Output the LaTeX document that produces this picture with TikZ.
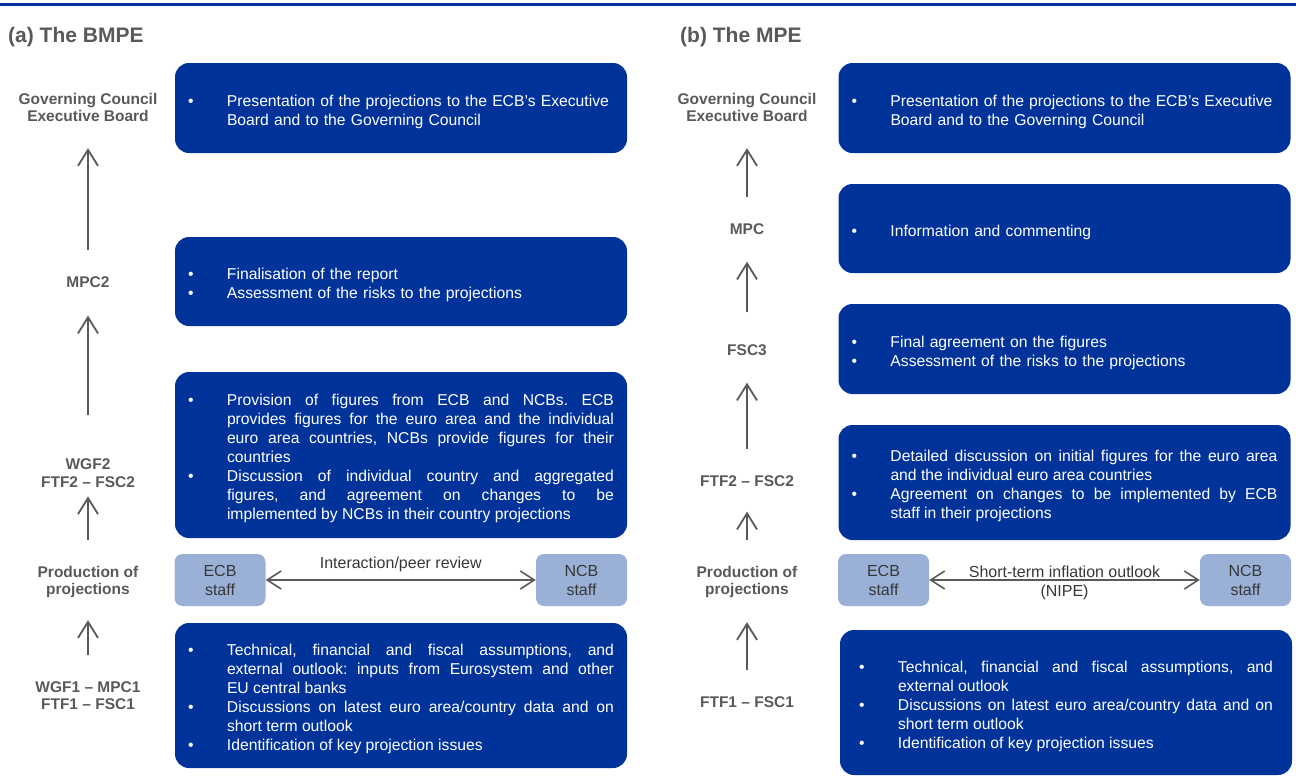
\documentclass[tikz,border=0pt]{standalone}
\usepackage{fontspec}
\setmainfont{Liberation Sans}
\usepackage{xcolor}
\usetikzlibrary{arrows.meta}
\definecolor{ecbblue}{RGB}{0,51,153}
\definecolor{staffblue}{RGB}{155,176,215}
\definecolor{labelgray}{RGB}{89,89,89}
\definecolor{staffgray}{RGB}{55,55,55}
\frenchspacing
\hyphenpenalty=10000
\newcommand{\bul}{\par\noindent\hangindent=39pt\hangafter=1\makebox[39pt][l]{\textbullet}}
\tikzset{
	stagebox/.style={
			fill=ecbblue, text=white, rounded corners=14pt,
			inner xsep=13pt, inner ysep=0pt, text width=426pt, minimum height=#1,
			font=\fontsize{15.7}{19}\selectfont
		},
	stagelabel/.style={
			align=center, inner sep=0pt, text=labelgray,
			font=\fontsize{15.5}{17.5}\selectfont\bfseries
		},
	staffbox/.style={
			fill=staffblue, text=staffgray, rounded corners=8pt, inner sep=0pt,
			minimum width=91pt, minimum height=52pt, align=center,
			font=\fontsize{16}{19}\selectfont
		},
	paneltitle/.style={
			anchor=base west, inner sep=0pt, text=labelgray,
			font=\fontsize{21}{25}\selectfont\bfseries
		},
	uparrow/.style={
			draw=labelgray, line width=1.8pt, shorten <=26pt, shorten >=26pt,
			-{Straight Barb[width=20pt, length=16pt]}
		},
	peerarrow/.style={
			draw=labelgray, line width=1.6pt,
			{Straight Barb[width=18pt, length=14pt]}-{Straight Barb[width=18pt, length=14pt]}
		}
}

\begin{document}
\begin{tikzpicture}[x=1pt, y=-1pt]
	\useasboundingbox (0,0) rectangle (1296,782);

	% Draw the rule along the top
	\draw[ecbblue, line width=2.5pt] (0,4.5) -- (1296,4.5);

	% Panel titles
	\node[paneltitle] (titleA) at (8,42.5) {(a) The BMPE};
	\node[paneltitle] (titleB) at (680,42.5) {(b) The MPE};

	% Left panel: the stages
	\node[stagelabel] (gcA) at (88,107.5) {Governing Council\\Executive Board};
	\node[stagelabel] (mpcTwo) at (88,282) {MPC2};
	\node[stagelabel] (wgfTwo) at (88,473) {WGF2\\FTF2 – FSC2};
	\node[stagelabel] (prodA) at (88,582) {Production of\\projections};
	\node[stagelabel] (wgfOne) at (88,695.5) {WGF1 – MPC1\\FTF1 – FSC1};

	\draw[uparrow] (mpcTwo) -- (gcA);
	\draw[uparrow, shorten <=44pt, shorten >=28pt] (wgfTwo) -- (mpcTwo);
	\draw[uparrow, shorten >=9pt] (prodA) -- (wgfTwo);
	\draw[uparrow, shorten >=22pt] (wgfOne) -- (prodA);

	% Left panel: what happens at each stage
	\node[stagebox=90pt, align=left] (presA) at (401,108)
	{\bul \mbox{Presentation of the projections to the ECB’s Executive} \linebreak Board and to the Governing Council\par};
	\node[stagebox=89pt, align=left] (finalA) at (401,281.5)
	{\bul Finalisation of the report
		\bul Assessment of the risks to the projections\par};
	\node[stagebox=166pt, align=justify] (provA) at (401,455)
	{\bul Provision of figures from ECB and NCBs. ECB \linebreak provides figures for the euro area and the individual \linebreak euro area countries, NCBs provide figures for their \linebreak countries
		\bul Discussion of individual country and aggregated \linebreak figures, and agreement on changes to be \linebreak implemented by NCBs in their country projections\par};
	\node[stagebox=145pt, align=justify] (techA) at (401,695.5)
	{\bul Technical, financial and fiscal assumptions, and \linebreak external outlook: inputs from Eurosystem and other \linebreak EU central banks
		\bul Discussions on latest euro area/country data and on \linebreak short term outlook
		\bul Identification of key projection issues\par};

	% Left panel: staff interaction
	\node[staffbox] (ecbA) at (220,580) {ECB\\staff};
	\node[staffbox] (ncbA) at (581.5,580) {NCB\\staff};
	\draw[peerarrow] (ecbA.east) -- (ncbA.west)
	node[midway, above=7pt, inner sep=0pt, text=staffgray, font=\fontsize{16}{18}\selectfont] (peerA) {Interaction/peer review};

	% Right panel: the stages
	\node[stagelabel] (gcB) at (747,107.5) {Governing Council\\Executive Board};
	\node[stagelabel] (mpcB) at (747,229) {MPC};
	\node[stagelabel] (fscThree) at (747,350) {FSC3};
	\node[stagelabel] (ftfTwo) at (747,481) {FTF2 – FSC2};
	\node[stagelabel] (prodB) at (747,582) {Production of\\projections};
	\node[stagelabel] (ftfOne) at (747,702) {FTF1 – FSC1};

	\draw[uparrow] (mpcB) -- (gcB);
	\draw[uparrow, shorten <=32pt, shorten >=27pt] (fscThree) -- (mpcB);
	\draw[uparrow, shorten >=27pt] (ftfTwo) -- (fscThree);
	\draw[uparrow, shorten >=25pt] (prodB) -- (ftfTwo);
	\draw[uparrow, shorten >=24pt] (ftfOne) -- (prodB);

	% Right panel: what happens at each stage
	\node[stagebox=90pt, align=left] (presB) at (1064.5,108)
	{\bul \mbox{Presentation of the projections to the ECB’s Executive} \linebreak Board and to the Governing Council\par};
	\node[stagebox=89pt, align=left] (infoB) at (1064.5,228.5)
	{\bul Information and commenting\par};
	\node[stagebox=90pt, align=left] (finalB) at (1064.5,349)
	{\bul Final agreement on the figures
		\bul Assessment of the risks to the projections\par};
	\node[stagebox=115pt, align=justify] (detailB) at (1064.5,482.5)
	{\bul Detailed discussion on initial figures for the euro area \linebreak and the individual euro area countries
		\bul Agreement on changes to be implemented by ECB \linebreak staff in their projections\par};
	\node[stagebox=145pt, align=justify, inner xsep=19pt, text width=414pt] (techB) at (1066,702.5)
	{\bul Technical, financial and fiscal assumptions, and \linebreak external outlook
		\bul Discussions on latest euro area/country data and on \linebreak short term outlook
		\bul Identification of key projection issues\par};

	% Right panel: staff interaction
	\node[staffbox] (ecbB) at (883.5,580) {ECB\\staff};
	\node[staffbox] (ncbB) at (1245.5,580) {NCB\\staff};
	\draw[peerarrow] (ecbB.east) -- (ncbB.west)
	node[midway, yshift=-3pt, inner sep=0pt, align=center, text=staffgray, font=\fontsize{16}{19}\selectfont] (nipeB) {Short-term inflation outlook\\(NIPE)};

\end{tikzpicture}
\end{document}
